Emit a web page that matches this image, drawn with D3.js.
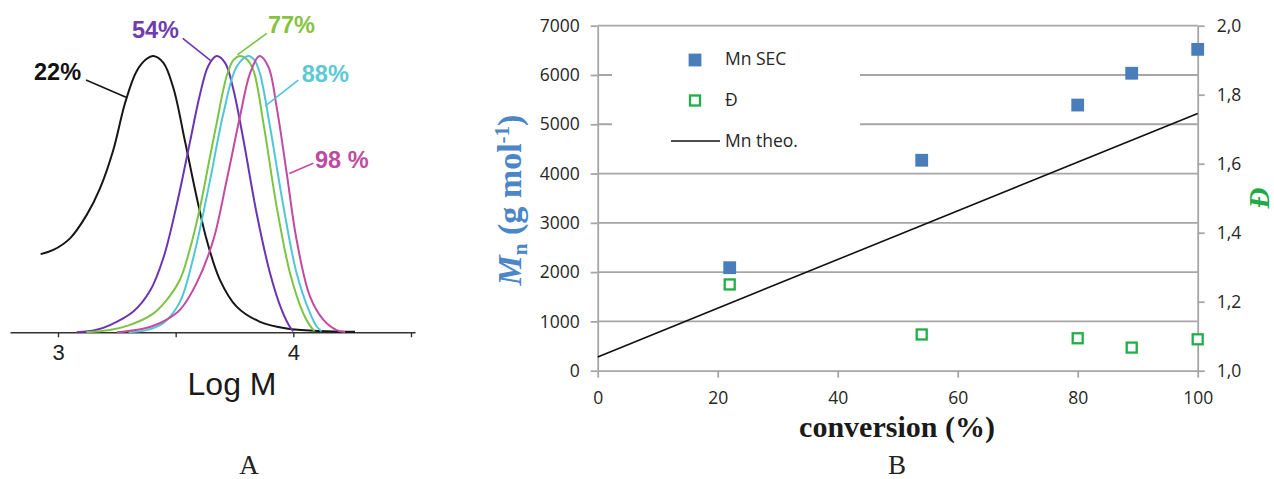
<!DOCTYPE html>
<html><head><meta charset="utf-8">
<script src="https://cdn.jsdelivr.net/npm/d3@7"></script>
<style>body{margin:0;background:#fff}svg{display:block}</style>
</head><body><svg id="c" width="1274" height="479"></svg>
<script>
// ---------- Panel A data (SEC traces, normalized intensity vs log M) ----------
const logMTicks = [3, 3.5, 4, 4.5];
const logMTickLabels = ["3", "", "4", ""];
const trace22 = [[2.926,0.283],[2.98,0.298],[3.051,0.34],[3.122,0.425],[3.178,0.52],[3.235,0.66],[3.285,0.83],[3.334,0.945],[3.377,0.99],[3.405,1.0],[3.448,0.975],[3.49,0.885],[3.54,0.69],[3.589,0.49],[3.632,0.334],[3.688,0.19],[3.759,0.093],[3.858,0.038],[3.972,0.014],[4.112,0.005],[4.262,0.002]];
const trace54 = [[3.079,0.0],[3.16,0.008],[3.221,0.026],[3.32,0.075],[3.391,0.15],[3.448,0.27],[3.504,0.46],[3.561,0.69],[3.603,0.86],[3.639,0.965],[3.674,1.0],[3.71,0.975],[3.745,0.88],[3.788,0.696],[3.844,0.431],[3.901,0.214],[3.951,0.08],[3.985,0.02],[4.0,0.004]];
const trace77 = [[3.12,0.0],[3.22,0.008],[3.3,0.025],[3.4,0.065],[3.46,0.115],[3.518,0.19],[3.56,0.3],[3.603,0.45],[3.64,0.61],[3.674,0.756],[3.716,0.925],[3.745,0.985],[3.773,1.0],[3.80,0.99],[3.83,0.949],[3.873,0.756],[3.929,0.455],[3.986,0.214],[4.042,0.069],[4.07,0.025],[4.09,0.004]];
const trace88 = [[3.30,0.0],[3.377,0.008],[3.45,0.035],[3.518,0.11],[3.575,0.27],[3.646,0.55],[3.703,0.793],[3.759,0.961],[3.809,1.0],[3.835,0.985],[3.858,0.937],[3.901,0.744],[3.958,0.455],[4.014,0.214],[4.071,0.069],[4.10,0.02],[4.12,0.004]];
const trace98 = [[3.25,0.0],[3.33,0.008],[3.40,0.022],[3.46,0.045],[3.518,0.081],[3.589,0.178],[3.66,0.334],[3.717,0.551],[3.773,0.78],[3.816,0.937],[3.856,1.0],[3.894,0.961],[3.929,0.816],[3.972,0.575],[4.014,0.334],[4.071,0.129],[4.128,0.045],[4.184,0.008],[4.22,0.001]];
const traceNames = ["22%", "54%", "77%", "88%", "98 %"];
const traceColors = ["#161616", "#6a35b0", "#7cc444", "#52c6d6", "#c24aa3"];
const labelColors = ["#111111", "#6d3cae", "#86c440", "#5cc9d3", "#c04a9f"];
// label anchor (logM, intensity), text-anchor, leader start/end (logM, intensity)
const labelPos = [[3.098,0.913],[3.514,1.065],[3.892,1.083],[4.036,0.907],[4.092,0.595]];
const labelAnchor = ["end","end","start","start","start"];
const leaderFrom = [[3.119,0.913],[3.530,1.064],[3.887,1.082],[4.021,0.913],[4.085,0.612]];
const leaderTo = [[3.289,0.851],[3.649,0.983],[3.762,1.004],[3.880,0.819],[3.983,0.575]];

// ---------- Panel B data ----------
const conversion = [22, 54, 80, 89, 100];
const mnSEC = [2090, 4270, 5390, 6035, 6520];
const dispersity = [1.25, 1.105, 1.094, 1.067, 1.091];
const mnTheoX = [0, 100];
const mnTheoY = [280, 5220];
const xTicksB = [0, 20, 40, 60, 80, 100];
const leftTicksB = [0, 1000, 2000, 3000, 4000, 5000, 6000, 7000];
const rightTicksB = [1.0, 1.2, 1.4, 1.6, 1.8, 2.0];
const legendLabels = ["Mn SEC", "Đ", "Mn theo."];

const svg = d3.select("#c");

// ================= Panel A =================
const xA = d3.scaleLinear().domain([2.796, 4.517]).range([10, 415]);
const yA = d3.scaleLinear().domain([0, 1]).range([332.3, 56]);
const gA = svg.append("g");
const axA = gA.append("g").attr("transform", "translate(0,332.3)")
  .call(d3.axisBottom(xA).tickValues(logMTicks).tickFormat((d,i)=>logMTickLabels[i]).tickSize(5).tickSizeOuter(0).tickPadding(7));
axA.attr("font-size", null).attr("font-family", null);
axA.select(".domain").attr("stroke", "#333").attr("stroke-width", 1.6);
axA.selectAll(".tick line").attr("stroke", "#333").attr("stroke-width", 1.4);
axA.selectAll(".tick text").attr("font-family", "Liberation Sans, Arial, sans-serif").attr("font-size", 22)
  .style("font-family", "Liberation Sans, Arial, sans-serif").style("font-size", "22px").attr("fill", "#222");
gA.append("text").attr("x", 232).attr("y", 395).attr("text-anchor", "middle")
  .style("font-family", "Liberation Sans, Arial, sans-serif").style("font-size", "32px").attr("fill", "#1a1a1a").text("Log M");

const lineA = d3.line().x(d => xA(d[0])).y(d => yA(Math.max(0, d[1]))).curve(d3.curveCatmullRom.alpha(0.5));
const traces = [trace22, trace54, trace77, trace88, trace98];
traces.forEach((t, i) => {
  gA.append("path").datum(t).attr("d", lineA).attr("fill", "none")
    .attr("stroke", traceColors[i]).attr("stroke-width", 2);
});
traces.forEach((t, i) => {
  gA.append("line").attr("x1", xA(leaderFrom[i][0])).attr("y1", yA(leaderFrom[i][1]))
    .attr("x2", xA(leaderTo[i][0])).attr("y2", yA(leaderTo[i][1]))
    .attr("stroke", traceColors[i]).attr("stroke-width", 1.6);
  gA.append("text").attr("x", xA(labelPos[i][0])).attr("y", yA(labelPos[i][1]))
    .attr("text-anchor", labelAnchor[i]).style("font-family", "Liberation Sans, Arial, sans-serif")
    .style("font-weight", "bold").style("font-size", "23.5px").attr("fill", labelColors[i]).text(traceNames[i]);
});
svg.append("text").attr("x", 249).attr("y", 474).attr("text-anchor", "middle")
  .style("font-family", "Liberation Serif, Times New Roman, serif").style("font-size", "27px").attr("fill", "#222").text("A");

// ================= Panel B =================
const xB = d3.scaleLinear().domain([0, 100]).range([597.7, 1197.7]);
const yL = d3.scaleLinear().domain([0, 7000]).range([370.7, 25.7]);
const yR = d3.scaleLinear().domain([1, 2]).range([370.7, 25.7]);
const gB = svg.append("g");
const gridCol = "#a6a6a6";
const tickFont = "Open Sans, Liberation Sans, sans-serif";

// gridlines
gB.append("g").selectAll("line").data(leftTicksB.filter(d => d > 0)).join("line")
  .attr("x1", xB(0)).attr("x2", xB(100)).attr("y1", d => yL(d)).attr("y2", d => yL(d))
  .attr("stroke", gridCol).attr("stroke-width", 1.8);

// legend background (occludes gridlines)
gB.append("rect").attr("x", 612).attr("y", 36).attr("width", 248).attr("height", 124).attr("fill", "#fff");

function styleAxis(g) {
  g.select(".domain").attr("stroke", gridCol).attr("stroke-width", 1.8);
  g.selectAll(".tick line").attr("stroke", gridCol).attr("stroke-width", 1.8);
  g.selectAll(".tick text").style("font-family", tickFont).style("font-size", "17.5px").attr("fill", "#262626");
}
const axL = gB.append("g").attr("transform", `translate(${xB(0)},0)`)
  .call(d3.axisLeft(yL).tickValues(leftTicksB).tickFormat(d3.format("d")).tickSize(7).tickSizeOuter(0).tickPadding(11));
styleAxis(axL);
const axR = gB.append("g").attr("transform", `translate(${xB(100)},0)`)
  .call(d3.axisRight(yR).tickValues(rightTicksB).tickFormat(d => d3.format(".1f")(d).replace(".", ",")).tickSize(7).tickSizeOuter(0).tickPadding(12));
styleAxis(axR);
const axX = gB.append("g").attr("transform", `translate(0,${yL(0)})`)
  .call(d3.axisBottom(xB).tickValues(xTicksB).tickSize(7).tickSizeOuter(0).tickPadding(14));
styleAxis(axX);

// Mn theo line
gB.append("path").datum(mnTheoX.map((x, i) => [x, mnTheoY[i]]))
  .attr("d", d3.line().x(d => xB(d[0])).y(d => yL(d[1])))
  .attr("stroke", "#111").attr("stroke-width", 1.6).attr("fill", "none");

// Mn SEC markers
const blue = "#4a7ebb", green = "#1fae48";
gB.append("g").selectAll("rect").data(conversion).join("rect")
  .attr("x", d => xB(d) - 6.4).attr("y", (d, i) => yL(mnSEC[i]) - 6.4)
  .attr("width", 12.8).attr("height", 12.8).attr("fill", blue);
// dispersity markers
gB.append("g").selectAll("rect").data(conversion).join("rect")
  .attr("x", d => xB(d) - 5).attr("y", (d, i) => yR(dispersity[i]) - 5)
  .attr("width", 10).attr("height", 10).attr("fill", "#fff").attr("stroke", green).attr("stroke-width", 2.3);

// legend
const lg = gB.append("g");
lg.append("rect").attr("x", 695 - 6.4).attr("y", 60 - 6.4).attr("width", 12.8).attr("height", 12.8).attr("fill", blue);
lg.append("rect").attr("x", 695 - 5).attr("y", 100.5 - 5).attr("width", 10).attr("height", 10).attr("fill", "#fff").attr("stroke", green).attr("stroke-width", 2.3);
lg.append("line").attr("x1", 671).attr("x2", 720).attr("y1", 141).attr("y2", 141).attr("stroke", "#111").attr("stroke-width", 1.6);
[65, 106, 146.5].forEach((y, i) => {
  lg.append("text").attr("x", 725).attr("y", y).style("font-family", tickFont).style("font-size", "17.5px")
    .attr("fill", "#262626").text(legendLabels[i]);
});

// axis titles
const serif = "Liberation Serif, Times New Roman, serif";
const yt = gB.append("text").attr("transform", "translate(521,200) rotate(-90)").attr("text-anchor", "middle")
  .style("font-family", serif).style("font-weight", "bold").style("font-size", "34px").attr("fill", "#4a86c8");
yt.append("tspan").style("font-style", "italic").text("M");
yt.append("tspan").style("font-size", "21px").attr("dy", 6).text("n");
yt.append("tspan").attr("dy", -6).text(" (g mol");
yt.append("tspan").style("font-size", "21px").attr("dy", -12).text("-1");
yt.append("tspan").attr("dy", 12).text(")");

gB.append("text").attr("transform", "translate(1269,198) rotate(-90)").attr("text-anchor", "middle")
  .style("font-family", serif).style("font-weight", "bold").style("font-style", "italic").style("font-size", "29px")
  .attr("fill", "#1faa48").text("Đ");

gB.append("text").attr("x", 897).attr("y", 437).attr("text-anchor", "middle")
  .style("font-family", serif).style("font-weight", "bold").style("font-size", "30px").attr("fill", "#1a1a1a").text("conversion (%)");
svg.append("text").attr("x", 897).attr("y", 474).attr("text-anchor", "middle")
  .style("font-family", serif).style("font-size", "27px").attr("fill", "#222").text("B");
</script></body></html>
